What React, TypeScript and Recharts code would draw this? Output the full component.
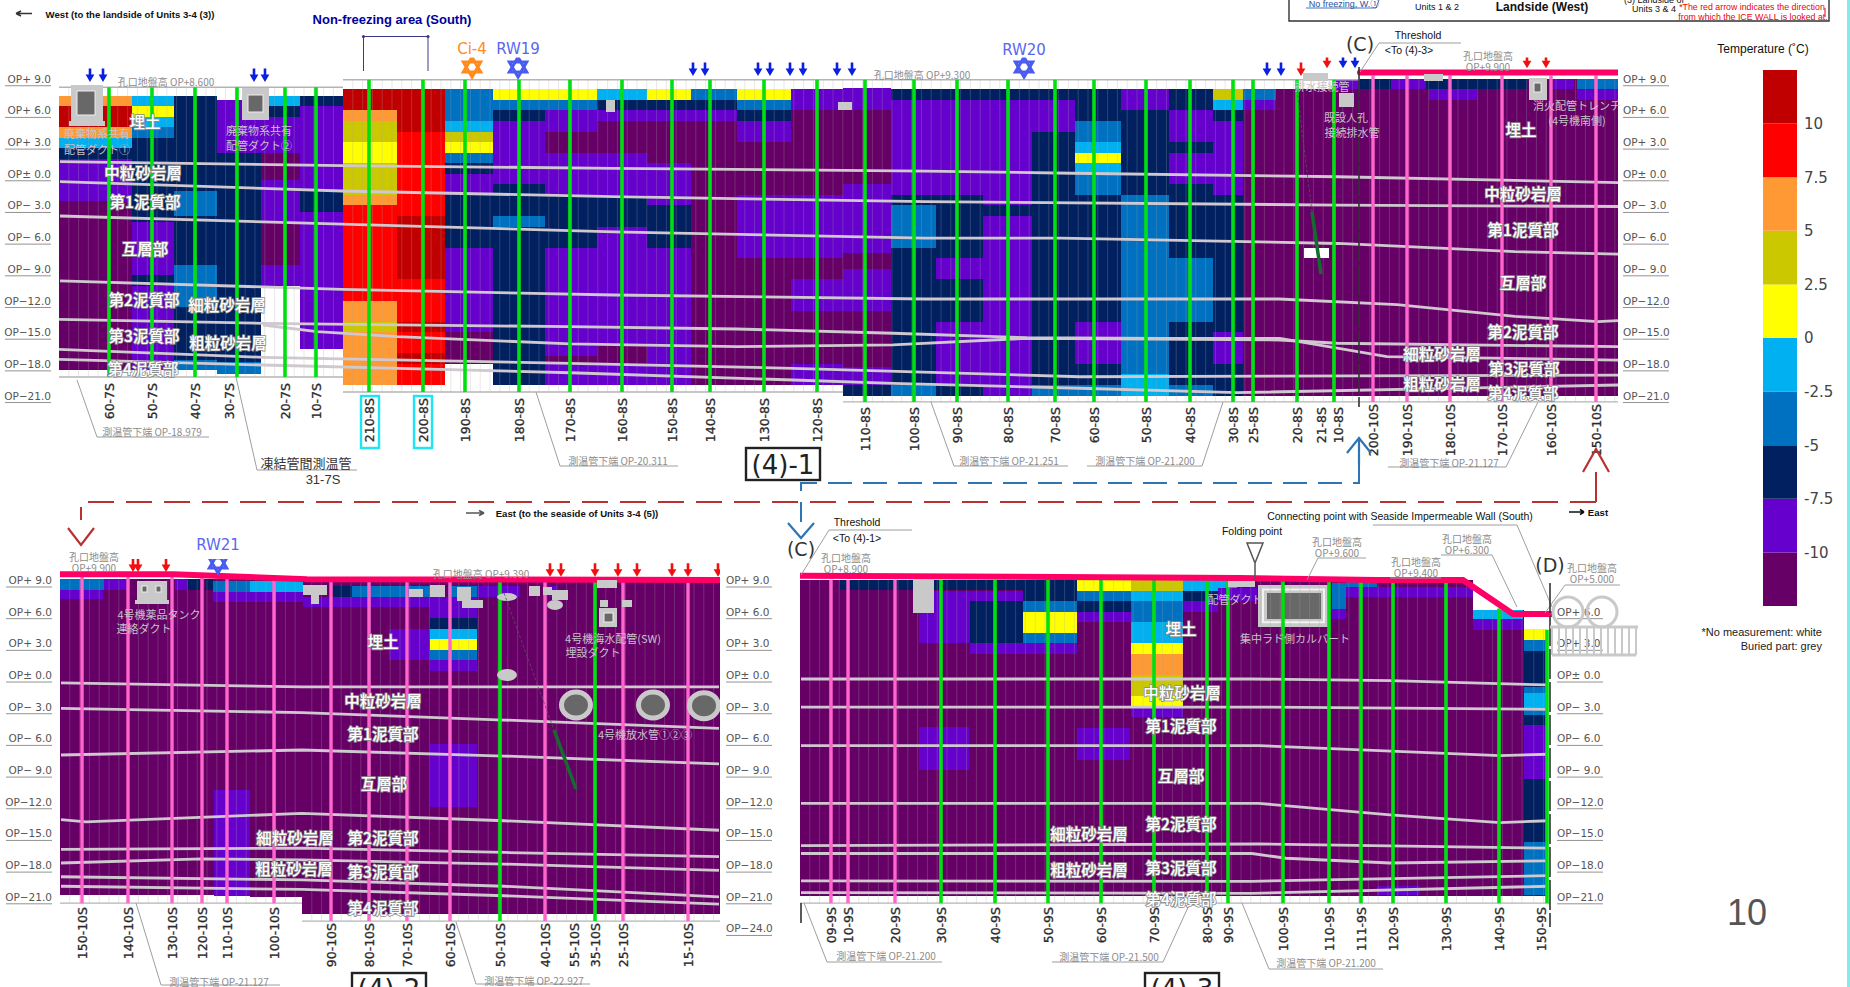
// -----------------------------------------------------------------------------
// ICE WALL UNDERGROUND TEMPERATURE SECTIONS
// Three heat-map panels along the wall, plus the temperature scale.
// Stations are measured along the sheet, elevations are in OP metres.
// -----------------------------------------------------------------------------
import React from 'react';
import {
  Bar,
  BarChart,
  ComposedChart,
  Line,
  ReferenceArea,
  ReferenceLine,
  Scatter,
  XAxis,
  YAxis,
} from 'recharts';

type Block = [number, number, number, number, number];
type Pt = { x: number; op: number };

// Temperature bands, hottest first. Index 0-9 are the scale, blocks refer to them
const heatColors = ['#C00000', '#FF0000', '#FF9933', '#CCC800', '#FFFF00', '#00B0F0', '#0070C0', '#002060', '#6600CC', '#660066'];
const scaleTicks = [22.5, 20, 17.5, 15, 12.5, 10, 7.5, 5, 2.5];
const scaleRow = [{ k: 't', b0: 2.5, b1: 2.5, b2: 2.5, b3: 2.5, b4: 2.5, b5: 2.5, b6: 2.5, b7: 2.5, b8: 2.5, b9: 2.5 }];

const opTicks = [9, 6, 3, 0, -3, -6, -9, -12, -15, -18, -21, -24];
const opTickLabels = ['OP+ 9.0', 'OP+ 6.0', 'OP+ 3.0', 'OP± 0.0', 'OP− 3.0', 'OP− 6.0', 'OP− 9.0', 'OP−12.0', 'OP−15.0', 'OP−18.0', 'OP−21.0', 'OP−24.0'];

// -----------------------------------------------------------------------------
// PANEL (4)-1
// -----------------------------------------------------------------------------
const panel1Blocks: Block[] = [
  // west stretch
  [59, 132, 7.4, 6.4, 2], [59, 132, 6.4, 4.4, 0], [59, 132, 4.4, 3.4, 2], [59, 132, 3.4, 2.4, 5], [59, 132, 2.4, 1.4, 7], [59, 132, 1.4, -2.6, 8], [59, 132, -2.6, -18.6, 9],
  [132, 174, 7.4, 6.4, 5], [132, 174, 6.4, 5.4, 4], [132, 174, 5.4, 4.4, 5], [132, 174, 4.4, 3.4, 6], [132, 174, 3.4, -4.6, 7], [132, 174, -4.6, -9.6, 8], [132, 174, -9.6, -10.6, 7], [132, 174, -10.6, -18.6, 8],
  [174, 217, 7.4, -1.6, 7], [174, 217, -1.6, -4, 6], [174, 217, -4, -8.6, 7], [174, 217, -8.6, -12.6, 6], [174, 217, -12.6, -17.6, 7], [174, 217, -17.6, -18.6, 6],
  [217, 261, 7, 2, 8], [217, 261, 2, -17.8, 7], [217, 261, -17.8, -19, 6],
  [261, 300, 7.4, 6.4, 5], [261, 300, 6.4, 5.4, 7], [261, 300, 5.4, 2, 8], [261, 300, 2, -0.6, 9], [261, 300, -0.6, -4.6, 8], [261, 300, -4.6, -8.6, 9], [261, 300, -8.6, -10.6, 8],
  [300, 343, 7.4, 6.4, 7], [300, 343, 6.4, -1.6, 8], [300, 343, -1.6, -3.6, 7], [300, 343, -3.6, -16.6, 8],
  // non-freezing area
  [343, 397, 8, 6, 0], [343, 397, 6, 5, 2], [343, 397, 5, 3, 3], [343, 397, 3, 1, 4], [343, 397, 1, -2, 3], [343, 397, -2, -3, 2], [343, 397, -3, -12, 1], [343, 397, -12, -14, 2], [343, 397, -14, -15, 3], [343, 397, -15, -20, 2],
  [397, 445, 8, 4, 0], [397, 445, 4, -4, 1], [397, 445, -4, -10, 0], [397, 445, -10, -14, 1], [397, 445, -14, -15, 0], [397, 445, -15, -17, 1], [397, 445, -17, -18, 0], [397, 445, -18, -20, 1],
  // 190-8S to 110-8S
  [445, 493, 8, 5, 6], [445, 493, 5, 4, 5], [445, 493, 4, 3, 3], [445, 493, 3, 2, 4], [445, 493, 2, 1, 6], [445, 493, 1, 0, 7], [445, 493, 0, -2, 8], [445, 493, -2, -7, 7], [445, 493, -7, -15, 8], [445, 493, -15, -18, 9],
  [493, 545, 8, 7, 4], [493, 545, 7, 6, 6], [493, 545, 6, 5, 7], [493, 545, 5, -1, 8], [493, 545, -1, -4, 7], [493, 545, -4, -5, 6], [493, 545, -5, -20, 7],
  [545, 597, 8, 7, 4], [545, 597, 7, 6, 6], [545, 597, 6, 4, 8], [545, 597, 4, 2, 9], [545, 597, 2, -2, 8], [545, 597, -2, -7, 7], [545, 597, -7, -17.3, 8], [545, 597, -17.3, -18, 9], [545, 597, -18, -20, 8],
  [597, 647, 8, 7, 5], [597, 647, 7, 6, 7], [597, 647, 6, 5, 8], [597, 647, 5, 2, 9], [597, 647, 2, -2, 8], [597, 647, -2, -5, 7], [597, 647, -5, -16, 8], [597, 647, -16, -18, 9], [597, 647, -18, -20, 8],
  [647, 691, 8, 7, 4], [647, 691, 7, 6, 7], [647, 691, 6, 5, 8], [647, 691, 5, 1, 9], [647, 691, 1, -3, 8], [647, 691, -3, -7, 7], [647, 691, -7, -20, 8],
  [691, 737, 8, 7, 6], [691, 737, 7, 6, 7], [691, 737, 6, 5, 8], [691, 737, 5, -20, 9],
  [737, 791, 8, 7, 4], [737, 791, 7, 6, 6], [737, 791, 6, 5, 7], [737, 791, 5, 3, 8], [737, 791, 3, -2, 9], [737, 791, -2, -8, 8], [737, 791, -8, -20, 9],
  [791, 843, 8, 6, 8], [791, 843, 6, -2, 9], [791, 843, -2, -8, 8], [791, 843, -8, -10, 9], [791, 843, -10, -13, 8], [791, 843, -13, -18, 9], [791, 843, -18, -20, 8],
  [843, 891, 8.1, 6, 8], [843, 891, 6, -1, 9], [843, 891, -1, -7.5, 8], [843, 891, -7.5, -9, 9], [843, 891, -9, -13, 8], [843, 891, -13, -18.3, 9], [843, 891, -18.3, -20, 8], [843, 891, -20, -21, 7],
  // 100-8S to 25-8S
  [891, 936, 8, 7, 7], [891, 936, 7, -2, 8], [891, 936, -2, -3, 7], [891, 936, -3, -7, 6], [891, 936, -7, -20, 7], [891, 936, -20, -21, 6],
  [936, 983, 8, 7, 7], [936, 983, 7, -2, 8], [936, 983, -2, -8, 7], [936, 983, -8, -10, 8], [936, 983, -10, -14, 7], [936, 983, -14, -20, 8], [936, 983, -20, -21, 7],
  [983, 1032, 8, 7, 7], [983, 1032, 7, -3, 8], [983, 1032, -3, -4, 7], [983, 1032, -4, -21, 8],
  [1032, 1075, 8, 7, 7], [1032, 1075, 7, 4, 8], [1032, 1075, 4, -20, 7], [1032, 1075, -20, -21, 6],
  [1075, 1121, 8, 5, 7], [1075, 1121, 5, 3, 6], [1075, 1121, 3, 2, 5], [1075, 1121, 2, 1, 4], [1075, 1121, 1, 0, 5], [1075, 1121, 0, -2, 6], [1075, 1121, -2, -14, 7], [1075, 1121, -14, -18, 8], [1075, 1121, -18, -20, 7], [1075, 1121, -20, -21, 6],
  [1121, 1169, 8, 6, 8], [1121, 1169, 6, -2, 7], [1121, 1169, -2, -19, 6], [1121, 1169, -19, -21, 5],
  [1169, 1213, 8, 6, 7], [1169, 1213, 6, 3, 8], [1169, 1213, 3, 2, 7], [1169, 1213, 2, -1, 8], [1169, 1213, -1, -8, 7], [1169, 1213, -8, -14, 6], [1169, 1213, -14, -20, 7], [1169, 1213, -20, -21, 6],
  [1213, 1243, 8, 7, 3], [1213, 1243, 7, 6, 5], [1213, 1243, 6, 5, 7], [1213, 1243, 5, -2, 8], [1213, 1243, -2, -15, 7], [1213, 1243, -15, -18, 8], [1213, 1243, -18, -21, 7],
  [1243, 1276, 8, 7, 6], [1243, 1276, 7, 6, 8], [1243, 1276, 6, -21, 9],
  // east stretch, below the ground line
  [1276, 1360, 8, -21, 9], [1334, 1360, 9, 8, 8],
  [1360, 1618, 9, -21, 9],
  [1360, 1391, 9, 8, 7], [1391, 1426, 9, 8, 8], [1426, 1527, 9, 8, 7], [1553, 1574, 9, 8, 8], [1577, 1618, 9, 8, 6], [1429, 1477, 8, 7, 8], [1577, 1618, 8, 7, 8],
];

const panel1Green = [109, 152, 195, 237, 285, 316, 369, 423, 465, 519, 570, 622, 672, 710, 764, 817, 865, 914, 957, 1008, 1055, 1094, 1146, 1190, 1233, 1253, 1297, 1334];
const panel1Pink = [1373, 1407, 1450, 1502, 1551, 1596];

const panel1TickStations = [109, 152, 195, 229, 285, 316, 369, 423, 465, 519, 570, 622, 672, 710, 764, 817, 865, 914, 957, 1008, 1055, 1094, 1146, 1190, 1233, 1253, 1297, 1321, 1338, 1373, 1407, 1450, 1502, 1551, 1596];
const panel1TickLabels = ['60-7S', '50-7S', '40-7S', '30-7S', '20-7S', '10-7S', '210-8S', '200-8S', '190-8S', '180-8S', '170-8S', '160-8S', '150-8S', '140-8S', '130-8S', '120-8S', '110-8S', '100-8S', '90-8S', '80-8S', '70-8S', '60-8S', '50-8S', '40-8S', '30-8S', '25-8S', '20-8S', '21-8S', '10-8S', '200-10S', '190-10S', '180-10S', '170-10S', '160-10S', '150-10S'];

const panel1Strata: Pt[][] = [
  [[60, 1.15], [342, 0.77], [614, 0.52], [925, 0.26], [1072, 0.05], [1338, -0.28], [1618, -0.84]],
  [[60, -0.75], [342, -1.63], [614, -2.17], [925, -2.64], [1338, -2.96], [1618, -3.1]],
  [[60, -4], [342, -4.76], [614, -5.5], [925, -6.1], [1061, -6.1], [1338, -6.6], [1515, -7.38], [1618, -7.6]],
  [[60, -10.15], [342, -10.94], [614, -11.48], [925, -11.86], [1279, -11.86], [1397, -12.4], [1515, -13.5], [1598, -14], [1618, -13.9]],
  [[59, -13.78], [263, -14.16], [570, -14.48], [737, -14.7], [893, -15.1], [1027, -15.52], [1163, -15.58], [1280, -15.58], [1387, -17.32], [1618, -17.64]],
  [[263, -14.32], [317, -14.95], [397, -15.43], [570, -16.1], [737, -16.37], [893, -16.21], [1027, -15.58], [1280, -15.74], [1337, -16.05], [1618, -16.37]],
  [[59, -16.62], [263, -17.38], [570, -17.95], [793, -18.42], [1080, -19.22], [1618, -19.06]],
  [[59, -17.57], [263, -18.11], [570, -18.84], [793, -19.53], [893, -19.84], [1080, -20.31], [1237, -20.73], [1618, -20]],
].map((line) => line.map(([x, op]) => ({ x, op })));
const panel1Ground: Pt[] = [{ x: 1360, op: 9.6 }, { x: 1618, op: 9.6 }];
const panel1BlueArrows: Pt[] = [
  { x: 90, op: 8.7 }, { x: 103, op: 8.7 }, { x: 254, op: 8.7 }, { x: 265, op: 8.7 },
  { x: 693, op: 9.25 }, { x: 705, op: 9.25 }, { x: 758, op: 9.25 }, { x: 770, op: 9.25 }, { x: 790, op: 9.25 }, { x: 803, op: 9.25 }, { x: 837, op: 9.25 }, { x: 852, op: 9.25 },
  { x: 1267, op: 9.25 }, { x: 1281, op: 9.25 }, { x: 1343, op: 10 }, { x: 1355, op: 10 },
];
const panel1RedArrows: Pt[] = [{ x: 1301, op: 9.25 }, { x: 1327, op: 10 }, { x: 1527, op: 10 }, { x: 1546, op: 10 }];
const panel1BlueWells: Pt[] = [{ x: 518, op: 10.1 }, { x: 1024, op: 10.1 }];
const panel1OrangeWells: Pt[] = [{ x: 472, op: 10.1 }];

// -----------------------------------------------------------------------------
// PANEL (4)-2
// -----------------------------------------------------------------------------
const panel2Blocks: Block[] = [
  [60, 250, 9.1, -20.8, 9], [250, 302, 9.1, -21, 9], [302, 720, 9.1, -22.6, 9],
  [60, 104, 9.1, 8.1, 6], [104, 127, 9.1, 8.1, 8], [175, 187, 9.1, 8.1, 8], [188, 200, 9.1, 8.1, 7], [205, 213, 9.1, 8.1, 7],
  [213, 250, 8.9, 7.9, 6], [250, 303, 8.9, 7.9, 5], [60, 103, 8.1, 7.2, 8], [213, 303, 7.9, 6.9, 8],
  [303, 430, 7.4, 6.4, 8], [333, 352, 8.4, 7.4, 7], [352, 430, 8.4, 7.4, 6], [448, 477, 8.4, 7.4, 6],
  [430, 477, 7.4, 5.4, 8], [430, 477, 5.4, 4.4, 7], [430, 477, 4.4, 3.4, 5], [430, 477, 3.4, 2.4, 4], [430, 477, 2.4, 1.4, 6], [430, 477, 1.4, 0.4, 8],
  [389, 430, 4.4, 1.4, 8], [477, 520, 8.4, 7.4, 8], [549, 557, 8.4, 7.4, 8],
  [430, 477, -6.5, -12.5, 8], [214, 250, -10.9, -20.9, 8],
];
const panel2Green = [500, 595];
const panel2Pink = [82, 128, 172, 202, 227, 274, 331, 369, 407, 450, 545, 623, 688];
const panel2TickStations = [82, 128, 172, 202, 227, 274, 331, 369, 407, 450, 500, 545, 574, 595, 623, 688];
const panel2TickLabels = ['150-10S', '140-10S', '130-10S', '120-10S', '110-10S', '100-10S', '90-10S', '80-10S', '70-10S', '60-10S', '50-10S', '40-10S', '55-10S', '35-10S', '25-10S', '15-10S'];
const panel2Strata: Pt[][] = [
  [[61, -0.75], [302, -1.13], [719, -1.13]],
  [[61, -3.15], [302, -3.56], [504, -4.26], [719, -5.05]],
  [[61, -7.57], [302, -7.1], [504, -7.67], [719, -8.42]],
  [[61, -13.7], [86, -13.9], [302, -13.1], [504, -13.8], [719, -14.7]],
  [[61, -16.5], [302, -16.4], [504, -16.8], [719, -17.2]],
  [[61, -17.8], [202, -17.4], [302, -17.5], [504, -17.9], [719, -18.5]],
  [[61, -19.1], [302, -19.4], [504, -20], [719, -21]],
  [[61, -20], [302, -20.3], [504, -20.9], [719, -21.7]],
].map((line) => line.map(([x, op]) => ({ x, op })));
const panel2Ground: Pt[] = [{ x: 60, op: 9.54 }, { x: 173, op: 9.54 }, { x: 307, op: 9.07 }, { x: 720, op: 9 }];
const panel2RedArrows: Pt[] = [
  { x: 133, op: 9.76 }, { x: 138, op: 9.76 }, { x: 166, op: 9.76 },
  { x: 550, op: 9.3 }, { x: 561, op: 9.3 }, { x: 595, op: 9.3 }, { x: 618, op: 9.3 }, { x: 637, op: 9.3 }, { x: 672, op: 9.3 }, { x: 688, op: 9.3 }, { x: 718, op: 9.3 },
];
const panel2BlueWells: Pt[] = [{ x: 218, op: 10.6 }];
const panel2Pipes: Pt[] = [{ x: 576, op: -2.84 }, { x: 653, op: -2.84 }, { x: 704, op: -2.9 }];

// -----------------------------------------------------------------------------
// PANEL (4)-3
// -----------------------------------------------------------------------------
const panel3Blocks: Block[] = [
  [800, 1473, 9, -20.9, 9], [1473, 1524, 6.2, -20.9, 9], [1524, 1546, 4.33, -20.9, 9],
  [840, 913, 9, 8.1, 7], [930, 1023, 9, 8.1, 7], [1023, 1077, 9, 7, 7],
  [919, 1023, 8, 7, 8], [919, 970, 7, 3, 8], [970, 1023, 7, 3, 7], [970, 1077, 3, 2, 8],
  [1023, 1077, 7, 6, 6], [1023, 1077, 6, 4, 4], [1023, 1077, 4, 3, 6],
  [1077, 1131, 9, 8, 4], [1077, 1131, 8, 7, 6], [1077, 1131, 7, 6, 7], [1077, 1131, 6, 5, 8],
  [1131, 1183, 9, 8, 3], [1131, 1183, 8, 7, 5], [1131, 1183, 7, 5, 6], [1131, 1183, 5, 3, 5], [1131, 1183, 3, 2, 4], [1131, 1183, 2, 0, 2], [1131, 1183, 0, -2, 3], [1131, 1183, -2, -3, 4], [1131, 1183, -3, -4, 8],
  [1183, 1218, 9, 8, 5], [1183, 1218, 8, 7, 7], [1183, 1218, 7, 6, 8], [1218, 1237, 9, 8.2, 5], [1218, 1257, 8.2, 7, 8],
  [919, 969, -4.9, -9, 8], [1077, 1130, -5, -8, 8],
  [1332, 1346, 8.7, 6.3, 6], [1332, 1346, 6.3, 5.3, 8], [1346, 1377, 8.9, 8.3, 6], [1346, 1473, 8.3, 7.4, 8],
  [1473, 1523, 6.2, 5.3, 5], [1473, 1523, 5.3, 4.3, 8],
  [1524, 1546, 4.33, 3.32, 4], [1524, 1546, 3.32, 2.31, 6], [1524, 1546, 2.31, -1.1, 7], [1524, 1546, -1.1, -1.73, 6], [1524, 1546, -1.73, -3.3, 5], [1524, 1546, -3.3, -3.8, 6], [1524, 1546, -3.8, -4.75, 7], [1524, 1546, -4.75, -9.8, 8], [1524, 1546, -9.8, -15.8, 7], [1524, 1546, -15.8, -20.8, 6],
  [1377, 1420, -20, -20.8, 8],
];
// Culvert body under the tubes: wall, ring, void
const panel3Culvert: Block[] = [
  [1258, 1328, 8.53, 4.55, 0],
  [1262, 1325, 8.2, 4.9, 1],
  [1264, 1323, 8, 5.1, 0],
  [1267, 1321, 7.77, 5.3, 2],
];
const culvertFills = ['#C9C9C9', '#F2F2F2', '#686868'];
const panel3Green = [941, 995, 1048, 1101, 1154, 1207, 1228, 1283, 1329, 1361, 1393, 1446, 1499, 1547];
const panel3Pink = [831, 848, 895];
const panel3TickStations = [831, 848, 895, 941, 995, 1048, 1101, 1154, 1207, 1228, 1283, 1329, 1361, 1393, 1446, 1499, 1541];
const panel3TickLabels = ['09-9S', '10-9S', '20-9S', '30-9S', '40-9S', '50-9S', '60-9S', '70-9S', '80-9S', '90-9S', '100-9S', '110-9S', '111-9S', '120-9S', '130-9S', '140-9S', '150-9S'];
const panel3Strata: Pt[][] = [
  [[801, -0.375], [1252, -0.375], [1390, -0.53], [1548, -0.94]],
  [[801, -3.03], [1252, -3.03], [1548, -3.25]],
  [[801, -6.69], [1259, -6.69], [1500, -7.63], [1548, -7.5]],
  [[801, -12.15], [1259, -12.15], [1390, -13.25], [1500, -13.98], [1548, -13.8]],
  [[801, -16.16], [1259, -16], [1548, -16.4]],
  [[801, -16.9], [1252, -16.9], [1286, -17.35], [1390, -17.8], [1548, -17.6]],
  [[801, -19.5], [1252, -19.53], [1548, -19]],
  [[801, -20.6], [1252, -20.67], [1548, -20]],
].map((line) => line.map(([x, op]) => ({ x, op })));
const panel3Ground: Pt[] = [{ x: 800, op: 9.41 }, { x: 1240, op: 9.19 }, { x: 1377, op: 9 }, { x: 1463, op: 9 }, { x: 1513, op: 5.78 }, { x: 1552, op: 5.78 }];

// -----------------------------------------------------------------------------
// TEXT ON THE SHEET
// -----------------------------------------------------------------------------
const strataLabels: [string, number, number][] = [
  ['埋土', 145, 121], ['中粒砂岩層', 143, 172], ['第1泥質部', 145, 201], ['互層部', 145, 248], ['第2泥質部', 144, 299], ['細粒砂岩層', 227, 304], ['第3泥質部', 144, 335], ['粗粒砂岩層', 228, 342], ['第4泥質部', 143, 368],
  ['埋土', 1521, 129], ['中粒砂岩層', 1523, 193], ['第1泥質部', 1523, 229], ['互層部', 1523, 282], ['第2泥質部', 1523, 331], ['細粒砂岩層', 1442, 353], ['第3泥質部', 1524, 368], ['粗粒砂岩層', 1442, 383], ['第4泥質部', 1523, 392],
  ['埋土', 383, 641], ['中粒砂岩層', 383, 700], ['第1泥質部', 383, 733], ['互層部', 384, 783], ['第2泥質部', 383, 837], ['細粒砂岩層', 295, 837], ['第3泥質部', 383, 871], ['粗粒砂岩層', 294, 868], ['第4泥質部', 383, 907],
  ['埋土', 1181, 628], ['中粒砂岩層', 1182, 692], ['第1泥質部', 1181, 725], ['互層部', 1181, 775], ['第2泥質部', 1181, 823], ['細粒砂岩層', 1089, 833], ['第3泥質部', 1181, 867], ['粗粒砂岩層', 1089, 869], ['第4泥質部', 1181, 898],
];
const greyNotes: [string, number, number][] = [
  ['孔口地盤高 OP+8.600', 166, 81], ['孔口地盤高 OP+9.300', 922, 74], ['孔口地盤高', 1488, 55], ['OP+9.900', 1488, 66],
  ['測温管下端 OP-18.979', 152, 431], ['測温管下端 OP-20.311', 618, 460], ['測温管下端 OP-21.251', 1009, 460], ['測温管下端 OP-21.200', 1145, 460], ['測温管下端 OP-21.127', 1449, 462],
  ['孔口地盤高', 94, 556], ['OP+9.900', 94, 567], ['孔口地盤高 OP+9.390', 481, 573], ['測温管下端 OP-21.127', 219, 981], ['測温管下端 OP-22.927', 534, 980],
  ['孔口地盤高', 846, 557], ['OP+8.900', 846, 568], ['孔口地盤高', 1337, 541], ['OP+9.600', 1337, 552], ['孔口地盤高', 1416, 561], ['OP+9.400', 1416, 572], ['孔口地盤高', 1467, 538], ['OP+6.300', 1467, 549], ['孔口地盤高', 1592, 567], ['OP+5.000', 1592, 578],
  ['測温管下端 OP-21.200', 886, 955], ['測温管下端 OP-21.500', 1109, 956], ['測温管下端 OP-21.200', 1326, 962],
];
const paleNotes: [string, number, number][] = [
  ['廃棄物系共有', 97, 133], ['配管ダクト①', 97, 149], ['廃棄物系共有', 259, 130], ['配管ダクト②', 259, 145],
  ['排水接続管', 1322, 86], ['既設人孔', 1346, 117], ['接続排水管', 1352, 132], ['消火配管トレンチ', 1577, 105], ['(4号機南側)', 1577, 120],
  ['4号機薬品タンク', 159, 614], ['連絡ダクト', 144, 628], ['4号機海水配管(SW)', 613, 638], ['埋設ダクト', 593, 652], ['4号機放水管①②③', 645, 734],
  ['配管ダクト', 1235, 599], ['集中ラド側カルバート', 1295, 638],
];
const sheetNotes: [string, number, number, number, string, number?][] = [
  ['West  (to the landside of Units 3-4 (3))', 130, 14, 9.6, '#111', 700],
  ['Non-freezing area (South)', 392, 19, 13, '#00009C', 700],
  ['East  (to the seaside of Units 3-4 (5))', 577, 513, 9.6, '#111', 700],
  ['East', 1598, 512, 9.6, '#111', 700],
  ['Threshold', 1418, 35, 10.5, '#111'], ['<To (4)-3>', 1409, 50, 10.5, '#111'],
  ['Threshold', 857, 522, 10.5, '#111'], ['<To (4)-1>', 857, 538, 10.5, '#111'],
  ['Connecting point with Seaside Impermeable Wall (South)', 1400, 516, 10.5, '#111'],
  ['Folding point', 1252, 531, 10.5, '#111'],
  ['Temperature (˚C)', 1763, 49, 12, '#111'],
  ['Units 1 & 2', 1437, 7, 9, '#111'], ['Landside (West)', 1542, 7, 12, '#111', 700],
  ['(3) Landside of', 1654, 0, 9, '#111'], ['Units 3 & 4', 1654, 9, 9, '#111'],
  ['No freezing, W.①', 1344, 4, 9, '#1F4E9C'],
  ['*The red arrow indicates the direction', 1752, 7, 8.8, '#F00000'], ['from which the ICE WALL is looked at.', 1753, 17, 8.8, '#F00000'],
  ['凍結管間測温管', 306, 463, 13, '#333'], ['31-7S', 323, 479, 13, '#333'],
];
const calloutPaths = [
  'M77 380L97 437H209', 'M236 377L257 470H357', 'M536 392L560 466H678', 'M931 402L954 466H1068', 'M1223 402L1202 466H1087', 'M1538 402L1506 467H1388', 'M1360 72L1379 43H1461',
  'M136 903L161 985H280', 'M456 922L476 984H590',
  'M804 903L827 962H942', 'M1190 903L1163 962H1052', 'M1242 903L1269 969H1383', 'M801 575L829 530H912', 'M1373 525H1517L1552 607', 'M1441 555H1492L1517 607',
  'M1307 580L1318 558H1366', 'M1390 578H1441', 'M1545 613L1565 585H1620',
];
// Small buried structures drawn on top of the heat map: x, y, w, h
const greyStructures = [
  [71, 85, 32, 38], [69, 121, 36, 5], [242, 88, 27, 32], [606, 100, 9, 12], [838, 102, 14, 8], [1303, 73, 25, 8], [1339, 93, 15, 14], [1424, 74, 19, 7], [1529, 78, 18, 22],
  [137, 581, 30, 20], [135, 600, 34, 4], [303, 585, 24, 10], [311, 595, 8, 9], [430, 585, 15, 12], [409, 589, 14, 8], [457, 587, 14, 14], [462, 600, 21, 8], [529, 586, 11, 10], [543, 587, 9, 8], [552, 590, 16, 10], [597, 580, 20, 8], [600, 600, 8, 7], [622, 600, 10, 7], [599, 608, 18, 19], [913, 580, 21, 33], [1228, 581, 27, 6],
];
const darkStructures = [
  [77, 91, 18, 24], [248, 95, 15, 17], [1534, 83, 7, 9], [142, 586, 5, 6], [156, 586, 5, 6], [604, 613, 9, 9],
];
const roundStructures = [[507, 597, 10, 4], [507, 675, 10, 6], [555, 605, 8, 5]];
const fencePosts = [1552, 1559, 1566, 1573, 1580, 1587, 1594, 1601, 1608, 1615, 1622, 1629, 1636];

// -----------------------------------------------------------------------------
// PANEL RENDERING
// -----------------------------------------------------------------------------
const CHART_W = 1850;
const CHART_H = 987;
const AXIS_H = 20;

const downArrow = (color: string) => (p: any) => (
  <path
    d={`M${p.cx} ${p.cy}l-4.4 -7.5h3.1v-6h2.6v6h3.1z`}
    fill={color}
  />
);
const wellMark = (color: string) => (p: any) => (
  <g fill="none" stroke={color} strokeWidth={3}>
    <path d={`M${p.cx} ${p.cy - 10}L${p.cx + 8.7} ${p.cy + 5}H${p.cx - 8.7}Z`} />
    <path d={`M${p.cx} ${p.cy + 10}L${p.cx + 8.7} ${p.cy - 5}H${p.cx - 8.7}Z`} />
  </g>
);
const pipeMark = (p: any) => (
  <ellipse cx={p.cx} cy={p.cy} rx={14.5} ry={13} fill="#686868" stroke="#C9C9C9" strokeWidth={5} />
);

type PanelProps = {
  xLeft: number;
  xRight: number;
  opTop: number;
  opBottom: number;
  yTop: number;
  yBottom: number;
  blocks: Block[];
  spans: [number, number, number, number][];
  gridRules: [number, number, number][];
  strata: Pt[][];
  ground?: Pt[];
  green: number[];
  pink: number[];
  tubeRange: (x: number) => [number, number];
  tickStations: number[];
  tickLabels: string[];
  labelTop: (x: number) => number;
  leftTicks?: number[];
  rightTicks: number[];
  rightLabelGap?: number;
  blueArrows?: Pt[];
  redArrows?: Pt[];
  blueWells?: Pt[];
  orangeWells?: Pt[];
  pipes?: Pt[];
  culvert?: Block[];
};

// Cell rulings of the temperature table
const cellStations = (from: number, to: number) => {
  const out: number[] = [];
  for (let x = from + 9.8; x < to; x += 9.8) out.push(Math.round(x * 10) / 10);
  return out;
};

const opTick = (anchor: 'start' | 'end', gap: number) => (p: any) => {
  const i = opTicks.indexOf(p.payload.value);
  const tx = p.x + gap;
  const lineFrom = anchor === 'end' ? tx - 46 : tx;
  return (
    <g>
      <text x={tx} y={p.y} textAnchor={anchor} dominantBaseline="central" fontFamily="DejaVu Sans" fontSize={10.5} fill="#555">
        {opTickLabels[i]}
      </text>
      <line x1={lineFrom} x2={lineFrom + 46} y1={p.y + 7} y2={p.y + 7} stroke="#777" strokeWidth={0.8} />
    </g>
  );
};

const HeatPanel = (props: PanelProps) => {
  const { xLeft, xRight, opTop, opBottom, yTop, yBottom, blocks, spans, gridRules, strata, ground, green, pink, tubeRange } = props;
  const labelFor = new Map(props.tickStations.map((x, i) => [x, props.tickLabels[i]]));
  const tubeTick = (p: any) => {
    const top = props.labelTop(p.payload.value);
    return (
      <text
        x={p.x}
        y={top}
        transform={`rotate(-90 ${p.x} ${top})`}
        textAnchor="end"
        dominantBaseline="central"
        fontFamily="DejaVu Sans"
        fontSize={12.5}
        fill="#2a2a2a"
        stroke="#2a2a2a"
        strokeWidth={0.3}
      >
        {labelFor.get(p.payload.value)}
      </text>
    );
  };
  const hasLeft = !!props.leftTicks;
  return (
    <div style={{ position: 'absolute', left: 0, top: 0 }}>
      <ComposedChart
        width={CHART_W}
        height={CHART_H}
        margin={{ top: yTop, bottom: CHART_H - yBottom - AXIS_H, left: hasLeft ? 0 : xLeft, right: 0 }}
      >
        <XAxis
          dataKey="x"
          type="number"
          domain={[xLeft, xRight]}
          allowDataOverflow
          ticks={props.tickStations}
          interval={0}
          height={AXIS_H}
          axisLine={false}
          tickLine={false}
          tickSize={0}
          tick={tubeTick}
        />
        {hasLeft && (
          <YAxis
            dataKey="op"
            type="number"
            domain={[opBottom, opTop]}
            allowDataOverflow
            ticks={props.leftTicks}
            interval={0}
            width={xLeft}
            axisLine={false}
            tickLine={false}
            tickSize={0}
            tick={opTick('end', -6)}
          />
        )}
        <YAxis
          yAxisId={hasLeft ? 'right' : 0}
          dataKey="op"
          orientation="right"
          type="number"
          domain={[opBottom, opTop]}
          allowDataOverflow
          ticks={props.rightTicks}
          interval={0}
          width={CHART_W - xRight}
          axisLine={false}
          tickLine={false}
          tickSize={0}
          tick={opTick('start', props.rightLabelGap ?? 3)}
        />

        {/* Temperature cells */}
        {blocks.map(([x1, x2, y1, y2, band], i) => (
          <ReferenceArea
            key={`b${i}`}
            x1={x1}
            x2={x2}
            y1={y1}
            y2={y2}
            fill={heatColors[band]}
            fillOpacity={1}
            stroke="none"
            shapeRendering="crispEdges"
            ifOverflow="visible"
          />
        ))}
        {props.culvert?.map(([x1, x2, y1, y2, kind], i) => (
          <ReferenceArea key={`c${i}`} x1={x1} x2={x2} y1={y1} y2={y2} fill={culvertFills[kind]} fillOpacity={1} stroke="none" ifOverflow="visible" />
        ))}

        {/* Cell rulings and table frame */}
        {spans.flatMap(([from, to, top, bottom], s) =>
          cellStations(from, to).map((x) => (
            <ReferenceLine
              key={`g${s}-${x}`}
              segment={[{ x, y: top }, { x, y: bottom }]}
              stroke="#A8A8A8"
              strokeOpacity={0.27}
              strokeWidth={1}
              ifOverflow="visible"
            />
          ))
        )}
        {gridRules.map(([from, to, op], i) => (
          <ReferenceLine key={`r${i}`} segment={[{ x: from, y: op }, { x: to, y: op }]} stroke="#B4B4B4" strokeWidth={1.4} ifOverflow="visible" />
        ))}

        {/* Geological boundaries */}
        {strata.map((line, i) => (
          <Line key={`s${i}`} data={line} dataKey="op" stroke="#CFC8CF" strokeWidth={2.8} dot={false} isAnimationActive={false} legendType="none" />
        ))}

        {/* Temperature tubes */}
        {pink.map((x) => (
          <Line
            key={`p${x}`}
            data={[{ x, op: tubeRange(x)[0] }, { x, op: tubeRange(x)[1] }]}
            dataKey="op"
            stroke="#FF66CC"
            strokeWidth={3.4}
            dot={false}
            isAnimationActive={false}
            legendType="none"
          />
        ))}
        {green.map((x) => (
          <Line
            key={`t${x}`}
            data={[{ x, op: tubeRange(x)[0] }, { x, op: tubeRange(x)[1] }]}
            dataKey="op"
            stroke="#00E010"
            strokeWidth={3.6}
            dot={false}
            isAnimationActive={false}
            legendType="none"
          />
        ))}

        {/* Ground level */}
        {ground && (
          <Line data={ground} dataKey="op" stroke="#FF0066" strokeWidth={6} strokeLinecap="round" dot={false} isAnimationActive={false} legendType="none" />
        )}

        {props.blueArrows && <Scatter data={props.blueArrows} shape={downArrow('#0A1FE0')} isAnimationActive={false} />}
        {props.redArrows && <Scatter data={props.redArrows} shape={downArrow('#F01010')} isAnimationActive={false} />}
        {props.blueWells && <Scatter data={props.blueWells} shape={wellMark('#4A5CF0')} isAnimationActive={false} />}
        {props.orangeWells && <Scatter data={props.orangeWells} shape={wellMark('#FF8A1E')} isAnimationActive={false} />}
        {props.pipes && <Scatter data={props.pipes} shape={pipeMark} isAnimationActive={false} />}
      </ComposedChart>
    </div>
  );
};

// -----------------------------------------------------------------------------
// TEMPERATURE SCALE
// -----------------------------------------------------------------------------
const TemperatureScale = () => (
  <div style={{ position: 'absolute', left: 1763, top: 70 }}>
    <BarChart width={87} height={536} data={scaleRow} margin={{ top: 0, bottom: 0, left: 0, right: 0 }} barCategoryGap={0}>
      <XAxis dataKey="k" hide />
      <YAxis
        orientation="right"
        type="number"
        domain={[0, 25]}
        ticks={scaleTicks}
        interval={0}
        width={53}
        axisLine={false}
        tickLine={false}
        tickSize={0}
        tickMargin={7}
        tickFormatter={(v: number) => String(v - 12.5)}
        tick={{ fontFamily: 'DejaVu Sans', fontSize: 15, fill: '#444' }}
      />
      {heatColors
        .map((color, i) => ({ color, i }))
        .reverse()
        .map(({ color, i }) => (
          <Bar key={i} dataKey={`b${i}`} stackId="t" fill={color} isAnimationActive={false} />
        ))}
    </BarChart>
  </div>
);

// -----------------------------------------------------------------------------
// SHEET ANNOTATIONS
// -----------------------------------------------------------------------------
const Annotations = () => (
  <svg width={CHART_W} height={CHART_H} style={{ position: 'absolute', left: 0, top: 0 }}>
    {/* Header box cut off by the top of the sheet */}
    <path d="M1289 0V21H1829V0" fill="none" stroke="#333" strokeWidth={1.4} />
    <path d="M1306 8H1376L1379 0" fill="none" stroke="#1F4E9C" strokeWidth={0.8} />
    <line x1={1825} x2={1825} y1={8} y2={17} stroke="#F00000" strokeWidth={1} />
    <rect x={1847} y={0} width={3} height={987} fill="#86E9EE" />

    {/* Routes joining the panels */}
    <path d="M1596 502H81V520" fill="none" stroke="#B83232" strokeWidth={2} strokeDasharray="26 12" />
    <path d="M1596 472V502" fill="none" stroke="#B83232" strokeWidth={2} />
    <path d="M1583 472L1596 449L1609 472M68 528L81 545L94 528" fill="none" stroke="#B83232" strokeWidth={2.2} />
    <path d="M1359 465V483H801V522" fill="none" stroke="#2E75B6" strokeWidth={2} strokeDasharray="24 11" />
    <path d="M1347 453L1359 438L1371 453M1359 438V465M788 523L801 538L814 523" fill="none" stroke="#2E75B6" strokeWidth={2.2} />

    {/* Direction arrows */}
    <path d="M16 13.5H32M16 13.5l5 -2.5M16 13.5l5 2.5" fill="none" stroke="#333" strokeWidth={1.6} />
    <path d="M466 513H484M484 513l-5 -2.5M484 513l-5 2.5" fill="none" stroke="#555" strokeWidth={1.6} />
    <path d="M1569 512H1584M1584 512l-4 -2.5M1584 512l-4 2.5" fill="none" stroke="#111" strokeWidth={1.6} />

    {/* Non-freezing bracket */}
    <path d="M363.5 71V36.5H428V71" fill="none" stroke="#3A3A8C" strokeWidth={1} />
    <circle cx={363.5} cy={36.5} r={1.6} fill="#3A3A8C" />
    <circle cx={428} cy={36.5} r={1.6} fill="#3A3A8C" />

    {/* Callouts */}
    {calloutPaths.map((d) => (
      <path key={d} d={d} fill="none" stroke="#9E9E9E" strokeWidth={1} />
    ))}

    {/* Dashed section marks */}
    <line x1={1359} x2={1359} y1={67} y2={407} stroke="#333" strokeWidth={1.6} strokeDasharray="30 3" />
    <line x1={1550} x2={1550} y1={583} y2={927} stroke="#333" strokeWidth={1.6} strokeDasharray="30 3" />
    <line x1={801} x2={801} y1={903} y2={923} stroke="#333" strokeWidth={1.6} />

    {/* Folding point */}
    <path d="M1247 543H1263L1255 563ZM1255 563V580" fill="none" stroke="#555" strokeWidth={1.5} />

    {/* Buried structures */}
    {greyStructures.map(([x, y, w, h]) => (
      <rect key={`${x}-${y}`} x={x} y={y} width={w} height={h} fill="#C9C9C9" />
    ))}
    {darkStructures.map(([x, y, w, h]) => (
      <rect key={`${x}-${y}`} x={x} y={y} width={w} height={h} fill="#686868" stroke="#EDEDED" strokeWidth={1} />
    ))}
    {roundStructures.map(([x, y, rx, ry]) => (
      <ellipse key={`${x}-${y}`} cx={x} cy={y} rx={rx} ry={ry} fill="#C9C9C9" />
    ))}
    <rect x={1304} y={248} width={25} height={10} fill="#fff" />
    <line x1={1312} y1={212} x2={1321} y2={274} stroke="#156B2E" strokeWidth={3.5} />
    <line x1={1297} y1={90} x2={1312} y2={212} stroke="#555" strokeWidth={0.8} strokeDasharray="3 2" />
    <line x1={554} y1={730} x2={576} y2={789} stroke="#156B2E" strokeWidth={3.5} />
    <line x1={504} y1={593} x2={554} y2={730} stroke="#555" strokeWidth={0.8} strokeDasharray="3 2" />

    {/* Seaside wall sketch at (D) */}
    <g fill="none" stroke="#C9C9C9" strokeWidth={3}>
      <circle cx={1568} cy={612} r={15} />
      <circle cx={1602} cy={612} r={15} />
      <path d="M1550 627H1638M1552 655H1636" />
      {fencePosts.map((x) => (
        <line key={x} x1={x} x2={x} y1={627} y2={655} strokeWidth={2} />
      ))}
    </g>

    {/* Cyan highlight on the unfrozen tubes */}
    <rect x={361} y={396} width={18} height={52} fill="none" stroke="#1CE6F5" strokeWidth={2.4} />
    <rect x={414} y={396} width={18} height={52} fill="none" stroke="#1CE6F5" strokeWidth={2.4} />

    {/* Panel tags */}
    <rect x={746} y={448} width={74} height={32} fill="#fff" stroke="#222" strokeWidth={2.4} />
    <text x={783} y={465} textAnchor="middle" dominantBaseline="central" fontFamily="DejaVu Sans" fontSize={26} fill="#222">(4)-1</text>
    <rect x={352} y={973} width={74} height={30} fill="#fff" stroke="#222" strokeWidth={2.4} />
    <text x={389} y={989} textAnchor="middle" dominantBaseline="central" fontFamily="DejaVu Sans" fontSize={26} fill="#222">(4)-2</text>
    <rect x={1145} y={973} width={74} height={30} fill="#fff" stroke="#222" strokeWidth={2.4} />
    <text x={1182} y={989} textAnchor="middle" dominantBaseline="central" fontFamily="DejaVu Sans" fontSize={26} fill="#222">(4)-3</text>

    {/* Section letters and well names */}
    <text x={1360} y={44} textAnchor="middle" dominantBaseline="central" fontFamily="DejaVu Sans" fontSize={19} fill="#333">(C)</text>
    <text x={801} y={549} textAnchor="middle" dominantBaseline="central" fontFamily="DejaVu Sans" fontSize={19} fill="#333">(C)</text>
    <text x={1550} y={565} textAnchor="middle" dominantBaseline="central" fontFamily="DejaVu Sans" fontSize={19} fill="#333">(D)</text>
    <text x={472} y={49} textAnchor="middle" dominantBaseline="central" fontFamily="DejaVu Sans" fontSize={15} fill="#FF8A1E">Ci-4</text>
    <text x={518} y={49} textAnchor="middle" dominantBaseline="central" fontFamily="DejaVu Sans" fontSize={15} fill="#5A66F0">RW19</text>
    <text x={1024} y={50} textAnchor="middle" dominantBaseline="central" fontFamily="DejaVu Sans" fontSize={15} fill="#5A66F0">RW20</text>
    <text x={218} y={545} textAnchor="middle" dominantBaseline="central" fontFamily="DejaVu Sans" fontSize={15} fill="#5A66F0">RW21</text>

    {sheetNotes.map(([t, x, y, size, fill, weight]) => (
      <text key={`${t}-${x}`} x={x} y={y} textAnchor="middle" dominantBaseline="central" fontFamily="Liberation Sans, Noto Sans CJK JP" fontSize={size} fontWeight={weight ?? 400} fill={fill}>
        {t}
      </text>
    ))}
    {greyNotes.map(([t, x, y]) => (
      <text key={`${t}-${x}-${y}`} x={x} y={y} textAnchor="middle" dominantBaseline="central" fontFamily="Noto Sans CJK JP" fontSize={10} fill="#8C8C8C">
        {t}
      </text>
    ))}
    {paleNotes.map(([t, x, y]) => (
      <text key={`${t}-${x}-${y}`} x={x} y={y} textAnchor="middle" dominantBaseline="central" fontFamily="Noto Sans CJK JP" fontSize={11} fill="#C9C2C9">
        {t}
      </text>
    ))}
    {strataLabels.map(([t, x, y]) => (
      <text
        key={`${t}-${x}-${y}`}
        x={x}
        y={y}
        textAnchor="middle"
        dominantBaseline="central"
        fontFamily="Noto Sans CJK JP"
        fontSize={15.5}
        fontWeight={500}
        fill="#fff"
        stroke="#8A8A8A"
        strokeWidth={1.6}
        paintOrder="stroke"
      >
        {t}
      </text>
    ))}

    {/* Scale footnotes and page number */}
    <text x={1822} y={632} textAnchor="end" dominantBaseline="central" fontFamily="Liberation Sans" fontSize={11} fill="#222">*No measurement: white</text>
    <text x={1822} y={646} textAnchor="end" dominantBaseline="central" fontFamily="Liberation Sans" fontSize={11} fill="#222">Buried part: grey</text>
    <text x={1747} y={912} textAnchor="middle" dominantBaseline="central" fontFamily="Liberation Sans" fontSize={36} fill="#555">10</text>
  </svg>
);

// -----------------------------------------------------------------------------
// MAIN COMPONENT
// -----------------------------------------------------------------------------
export default function App() {
  return (
    <div style={{ position: 'absolute', left: 0, top: 0, width: CHART_W, height: CHART_H, overflow: 'hidden', background: '#fff' }}>
      <HeatPanel
        xLeft={59}
        xRight={1618}
        opTop={11}
        opBottom={-22}
        yTop={57.62}
        yBottom={406.1}
        blocks={panel1Blocks}
        spans={[[59, 343, 8.2, -19.25], [343, 843, 8.9, -20.66], [843, 1360, 8.9, -21.6], [1360, 1618, 9, -21.6]]}
        gridRules={[[59, 343, 8.2], [59, 343, -19.25], [343, 1360, 8.9], [343, 843, -20.66], [843, 1618, -21.6]]}
        strata={panel1Strata}
        ground={panel1Ground}
        green={panel1Green}
        pink={panel1Pink}
        tubeRange={(x) => {
          if (x < 343) return [8.2, -19.25];
          if (x < 843) return [8.9, -20.66];
          if (x < 1360) return [8.9, -21.6];
          return [9.3, -21.6];
        }}
        tickStations={panel1TickStations}
        tickLabels={panel1TickLabels}
        labelTop={(x) => {
          if (x < 343) return 383;
          if (x < 843) return 398;
          if (x < 1360) return 407;
          return 404;
        }}
        leftTicks={opTicks.slice(0, 11)}
        rightTicks={opTicks.slice(0, 11)}
        blueArrows={panel1BlueArrows}
        redArrows={panel1RedArrows}
        blueWells={panel1BlueWells}
        orangeWells={panel1OrangeWells}
      />
      <HeatPanel
        xLeft={60}
        xRight={720}
        opTop={11}
        opBottom={-25}
        yTop={558.88}
        yBottom={939.04}
        blocks={panel2Blocks}
        spans={[[60, 302, 9, -21.6], [302, 720, 9, -23.3]]}
        gridRules={[[60, 302, -21.6], [302, 720, -23.3]]}
        strata={panel2Strata}
        ground={panel2Ground}
        green={panel2Green}
        pink={panel2Pink}
        tubeRange={(x) => (x < 302 ? [9.3, -21.6] : [9, -23.3])}
        tickStations={panel2TickStations}
        tickLabels={panel2TickLabels}
        labelTop={(x) => (x < 302 ? 907 : 923)}
        leftTicks={opTicks.slice(0, 11)}
        rightTicks={opTicks}
        rightLabelGap={4}
        redArrows={panel2RedArrows}
        blueWells={panel2BlueWells}
        pipes={panel2Pipes}
      />
      <HeatPanel
        xLeft={800}
        xRight={1552}
        opTop={11}
        opBottom={-25}
        yTop={558.88}
        yBottom={939.04}
        blocks={panel3Blocks}
        culvert={panel3Culvert}
        spans={[[800, 1473, 9, -21.6], [1473, 1524, 6.2, -21.6], [1524, 1550, 4.33, -21.6]]}
        gridRules={[[800, 1550, -21.6]]}
        strata={panel3Strata}
        ground={panel3Ground}
        green={panel3Green}
        pink={panel3Pink}
        tubeRange={(x) => {
          if (x >= 1540) return [4.3, -21.6];
          if (x >= 1490) return [6.3, -21.6];
          return [9, -21.6];
        }}
        tickStations={panel3TickStations}
        tickLabels={panel3TickLabels}
        labelTop={() => 907}
        rightTicks={opTicks.slice(1, 11)}
      />
      <TemperatureScale />
      <Annotations />
    </div>
  );
}
